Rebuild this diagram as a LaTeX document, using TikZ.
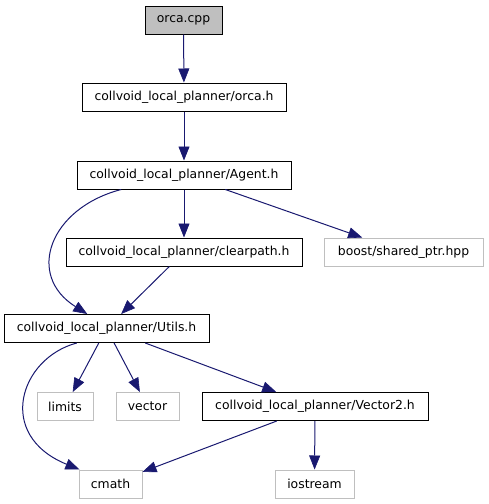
\documentclass[tikz,border=0pt]{standalone}
\usepackage{fontspec}
\setmainfont{DejaVu Sans}
\usetikzlibrary{arrows.meta}
\definecolor{edgeblue}{HTML}{191970}
\definecolor{lightgr}{HTML}{BFBFBF}
\tikzset{
  box/.style={draw=black, line width=1pt, rectangle, inner sep=0pt, minimum height=28pt,
    font=\fontsize{12.4}{14}\selectfont, text=black},
  grbox/.style={box, draw=lightgr},
  rootbox/.style={box, fill=lightgr},
  dep/.style={draw=edgeblue, line width=1pt,
    -{Triangle[length=14pt,width=11pt,fill=edgeblue,line width=0.6pt]}},
}
\begin{document}
\begin{tikzpicture}[x=1pt,y=-1pt]
\useasboundingbox (0,0) rectangle (488,504);
\node[rootbox, minimum width=77pt] (cpp) at (183.5,20) {orca.cpp};
\node[box, minimum width=204pt] (orca) at (184,97) {collvoid\_local\_planner/orca.h};
\node[box, minimum width=214pt] (agent) at (184,175) {collvoid\_local\_planner/Agent.h};
\node[box, minimum width=236pt] (clear) at (184,252) {collvoid\_local\_planner/clearpath.h};
\node[grbox, minimum width=159pt] (boost) at (403.5,252) {boost/shared\_ptr.hpp};
\node[box, minimum width=205pt] (utils) at (106.5,328.5) {collvoid\_local\_planner/Utils.h};
\node[grbox, minimum width=56pt] (limits) at (65,406.5) {limits};
\node[grbox, minimum width=63pt] (vector) at (147.5,406.5) {vector};
\node[box, minimum width=226pt] (vec2) at (315,406.5) {collvoid\_local\_planner/Vector2.h};
\node[grbox, minimum width=63pt] (cmath) at (110.5,484) {cmath};
\node[grbox, minimum width=79pt] (iostream) at (314.5,484) {iostream};

\draw[dep] (cpp) -- (orca);
\draw[dep] (orca) -- (agent);
\draw[dep] (agent) -- (clear);
\draw[dep] (agent) -- (boost);
\draw[dep] (agent.193) .. controls (50,208) and (25,275) .. (utils.143);
\draw[dep] (clear) -- (utils);
\draw[dep] (utils) -- (limits);
\draw[dep] (utils) -- (vector);
\draw[dep] (utils) -- (vec2);
\draw[dep] (utils.206) .. controls (20,358) and (-5,435) .. (cmath.155);
\draw[dep] (vec2) -- (cmath);
\draw[dep] (vec2) -- (iostream);
\end{tikzpicture}
\end{document}
